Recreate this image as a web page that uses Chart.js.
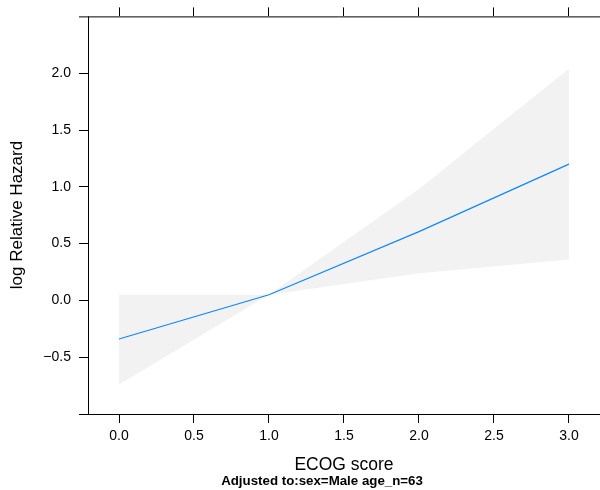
<!DOCTYPE html>
<html>
<head>
<meta charset="utf-8">
<script src="https://cdn.jsdelivr.net/npm/chart.js@4.4.1/dist/chart.umd.min.js"></script>
<style>
  html, body { margin: 0; padding: 0; background: #fff; }
  #wrap { width: 600px; height: 490px; }
</style>
</head>
<body>
<div id="wrap"><canvas id="hazardChart" width="600" height="490"></canvas></div>
<script>
const ecog = [0, 1, 2, 3];
const logHazard = [-0.34, 0.05, 0.605, 1.2];
const upperCI = [0.05, 0.05, 0.98, 2.04];
const lowerCI = [-0.74, 0.05, 0.24, 0.36];

const xTicks = [0, 0.5, 1, 1.5, 2, 2.5, 3];
const yTicks = [-0.5, 0, 0.5, 1, 1.5, 2];

const xTitle = "ECOG score";
const yTitle = "log Relative Hazard";
const adjustNote = "Adjusted to:sex=Male age_n=63";

const FONT = "'Liberation Sans', Arial, Helvetica, sans-serif";
const pts = (ys) => ecog.map((x, i) => ({ x, y: ys[i] }));
const fmt = (v) => (v < 0 ? "\u2212" : "") + Math.abs(v).toFixed(1);

const xMin = -0.2067, xMax = 3.207;

// axis frame bits that chart.js won't do on its own (the short left stubs)
const framePlugin = {
  id: "frame",
  afterDraw(chart) {
    const { ctx, chartArea: a } = chart;
    ctx.save();
    ctx.strokeStyle = "#000";
    ctx.lineWidth = 1;
    ctx.beginPath();
    ctx.moveTo(a.left - 9, a.top + 0.5);
    ctx.lineTo(a.right, a.top + 0.5);
    ctx.moveTo(a.left - 9, a.bottom + 0.5);
    ctx.lineTo(a.right, a.bottom + 0.5);
    ctx.moveTo(a.left + 0.5, a.top);
    ctx.lineTo(a.left + 0.5, a.bottom);
    ctx.stroke();

    ctx.fillStyle = "#000";
    ctx.textAlign = "center";
    ctx.textBaseline = "middle";
    ctx.font = "17.5px " + FONT;
    ctx.fillText(xTitle, (a.left + a.right) / 2, a.bottom + 51);
    ctx.font = "bold 13.3px " + FONT;
    ctx.fillText(adjustNote, 322, a.bottom + 67);

    ctx.translate(17, 215);
    ctx.rotate(-Math.PI / 2);
    ctx.font = "17px " + FONT;
    ctx.fillText(yTitle, 0, 0);
    ctx.restore();
  },
};

const axisCommon = {
  type: "linear",
  grid: { drawOnChartArea: false, drawTicks: true, tickLength: 9, color: "#000", lineWidth: 1 },
  border: { display: false },
};

// datasets draw last-to-first, so the line goes first to sit on top of the band
new Chart(document.getElementById("hazardChart"), {
  type: "line",
  data: {
    datasets: [
      {
        label: "log hazard",
        data: pts(logHazard),
        borderColor: "#0f87ff",
        borderWidth: 1.2,
        pointRadius: 0,
        fill: false,
        tension: 0,
      },
      {
        label: "upper",
        data: pts(upperCI),
        borderWidth: 0,
        pointRadius: 0,
        backgroundColor: "#f2f2f2",
        fill: 2,
      },
      {
        label: "lower",
        data: pts(lowerCI),
        borderWidth: 0,
        pointRadius: 0,
        fill: false,
      },
    ],
  },
  options: {
    responsive: false,
    animation: false,
    layout: { padding: 0 },
    plugins: { legend: { display: false }, tooltip: { enabled: false }, filler: { propagate: false } },
    scales: {
      x: {
        ...axisCommon,
        position: "bottom",
        min: xMin,
        max: xMax,
        afterBuildTicks: (s) => { s.ticks = xTicks.map((v) => ({ value: v })); },
        afterFit: (s) => { s.height = 76; },
        ticks: { font: { family: FONT, size: 14 }, color: "#000", padding: 5, maxRotation: 0, callback: (v) => v.toFixed(1) },
      },
      xTop: {
        ...axisCommon,
        position: "top",
        min: xMin,
        max: xMax,
        afterBuildTicks: (s) => { s.ticks = xTicks.map((v) => ({ value: v })); },
        afterFit: (s) => { s.height = 15; },
        ticks: { display: false },
      },
      y: {
        ...axisCommon,
        position: "left",
        min: -1,
        max: 2.5,
        afterBuildTicks: (s) => { s.ticks = yTicks.map((v) => ({ value: v })); },
        afterFit: (s) => { s.width = 88; },
        ticks: { font: { family: FONT, size: 14 }, color: "#000", padding: 8, callback: (v) => fmt(v) },
      },
    },
  },
  plugins: [framePlugin],
});
</script>
</body>
</html>
